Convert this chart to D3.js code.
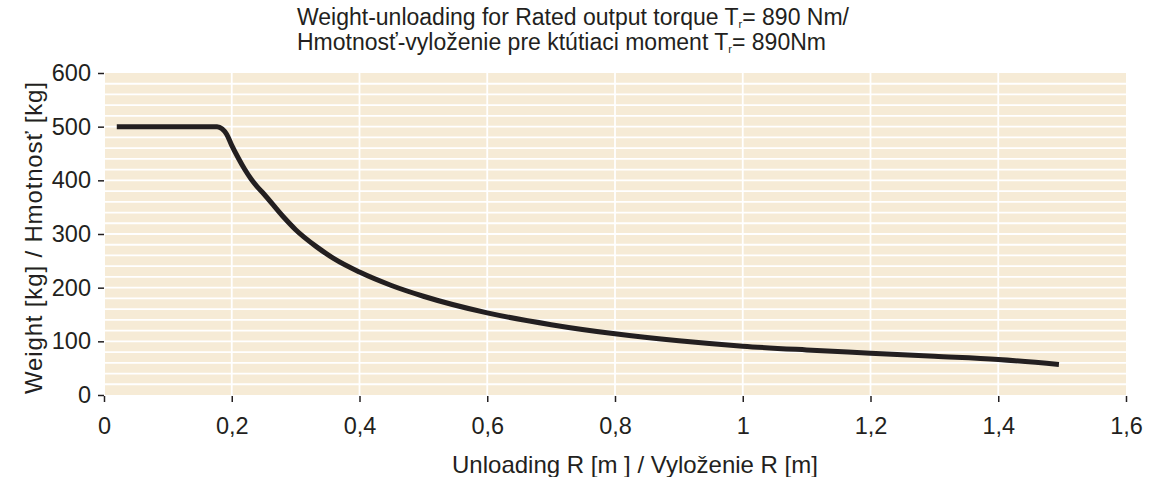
<!DOCTYPE html>
<html>
<head>
<meta charset="utf-8">
<script src="https://cdn.jsdelivr.net/npm/d3@7"></script>
<style>
  body { margin: 0; background: #fff; }
  text { font-family: "Liberation Sans", Arial, sans-serif; fill: #231f20; }
</style>
</head>
<body>
<div id="chart"></div>
<script>
// Chart size and plot margins
const width = 1151;
const height = 477;
const margin = { top: 73, right: 25, bottom: 82, left: 104 };

// Curve: unloading R [m] and weight [kg]
const unloading = [0.02, 0.1, 0.177, 0.185, 0.192, 0.2, 0.21, 0.22, 0.23, 0.24, 0.25, 0.28, 0.3, 0.333, 0.36, 0.4, 0.45, 0.5, 0.6, 0.7, 0.8, 0.9, 1.0, 1.1, 1.2, 1.3, 1.4, 1.495];
const weight = [500, 500, 500, 496, 486, 465, 442, 421, 403, 388, 375, 333, 308, 276, 254, 229, 204, 184, 153, 131, 114, 101, 91, 84, 78, 72, 66, 57];

// Ticks
const xTicks = [0, 0.2, 0.4, 0.6, 0.8, 1, 1.2, 1.4, 1.6];
const yTicks = [0, 100, 200, 300, 400, 500, 600];

const titleLine1 = ["Weight-unloading for Rated output torque T", "r", "= 890 Nm/"];
const titleLine2 = ["Hmotnosť-vyloženie pre ktútiaci moment T", "r", "= 890Nm"];
const xTitle = "Unloading R [m ] / Vyloženie R [m]";
const yTitle = "Weight [kg] / Hmotnosť [kg]";

const plotW = width - margin.left - margin.right;
const plotH = height - margin.top - margin.bottom;

const x = d3.scaleLinear().domain([0, 1.6]).range([0, plotW]);
const y = d3.scaleLinear().domain([0, 600]).range([plotH, 0]);

const locale = d3.formatLocale({ decimal: ",", thousands: " ", grouping: [3], currency: ["", ""] });
const fmt = locale.format(".1~f");

const svg = d3.select("#chart")
    .append("svg")
    .attr("width", width)
    .attr("height", height);

const g = svg.append("g")
    .attr("transform", "translate(" + margin.left + "," + margin.top + ")");

// Beige plot background
g.append("rect")
    .attr("x", 1)
    .attr("y", 0)
    .attr("width", plotW - 1)
    .attr("height", plotH)
    .attr("fill", "#f6ebd6");

// White grid: every 20 kg and every 0,2 m
g.append("g")
    .selectAll("line")
    .data(d3.range(20, 600, 20))
    .join("line")
    .attr("x1", 1)
    .attr("x2", plotW)
    .attr("y1", d => y(d))
    .attr("y2", d => y(d))
    .attr("stroke", "#fff")
    .attr("stroke-width", 1.8);

g.append("g")
    .selectAll("line")
    .data(xTicks.slice(1, -1))
    .join("line")
    .attr("x1", d => x(d))
    .attr("x2", d => x(d))
    .attr("y1", 0)
    .attr("y2", plotH)
    .attr("stroke", "#fff")
    .attr("stroke-width", 1.8);

// Axes
const xAxis = g.append("g")
    .attr("transform", "translate(0," + (plotH + 1) + ")")
    .call(d3.axisBottom(x).tickValues(xTicks).tickFormat(fmt).tickSize(6).tickPadding(15));

const yAxis = g.append("g")
    .call(d3.axisLeft(y).tickValues(yTicks).tickSize(6).tickPadding(7));

[xAxis, yAxis].forEach(a => {
    a.select(".domain").remove();
    a.selectAll(".tick line").attr("stroke", "#231f20").attr("stroke-width", 1.5);
    a.selectAll(".tick text")
        .attr("fill", "#231f20")
        .style("font-family", "'Liberation Sans', Arial, sans-serif")
        .style("font-size", "23.5px");
});

// Curve
const line = d3.line()
    .x(d => x(d[0]))
    .y(d => y(d[1]))
    .curve(d3.curveMonotoneX);

g.append("path")
    .datum(unloading.map((u, i) => [u, weight[i]]))
    .attr("d", line)
    .attr("fill", "none")
    .attr("stroke", "#231f20")
    .attr("stroke-width", 5)
    .attr("stroke-linejoin", "round");

// Axis titles
svg.append("text")
    .attr("x", 635)
    .attr("y", 473)
    .attr("text-anchor", "middle")
    .style("font-size", "24px")
    .text(xTitle);

svg.append("text")
    .attr("transform", "translate(42,238) rotate(-90)")
    .attr("text-anchor", "middle")
    .attr("textLength", 312)
    .attr("lengthAdjust", "spacing")
    .style("font-size", "24px")
    .text(yTitle);

// Two-line title with subscript r
function titleLine(parts, yPos) {
    const t = svg.append("text")
        .attr("x", 297)
        .attr("y", yPos)
        .style("font-size", "23px");
    t.append("tspan").text(parts[0]);
    t.append("tspan").attr("dy", 3).style("font-size", "11px").text(parts[1]);
    t.append("tspan").attr("dy", -3).text(parts[2]);
}
titleLine(titleLine1, 25);
titleLine(titleLine2, 50);
</script>
</body>
</html>
